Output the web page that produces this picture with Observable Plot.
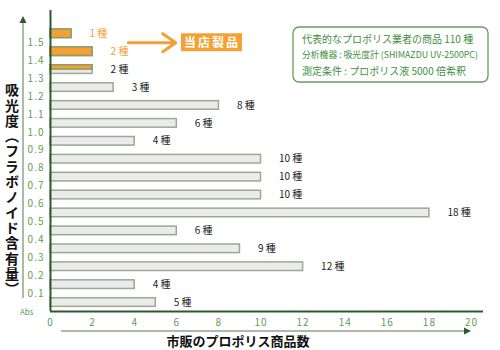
<!DOCTYPE html>
<html><head><meta charset="utf-8">
<script src="https://cdn.jsdelivr.net/npm/d3@7"></script>
<script src="https://cdn.jsdelivr.net/npm/@observablehq/plot@0.6"></script>
<style>
body{margin:0;background:#fff;}
#chart{position:relative;width:500px;height:350px;}
</style></head><body><div id="chart"></div>
<script>
// ---- data ----
const binStart = [0.0, 0.1, 0.2, 0.3, 0.4, 0.5, 0.6, 0.7, 0.8, 0.9, 1.0, 1.1, 1.2, 1.3, 1.4, 1.5];
const counts   = [5, 4, 12, 9, 6, 18, 10, 10, 10, 4, 6, 8, 3, 2, 2, 1];
const storeShare = [0, 0, 0, 0, 0, 0, 0, 0, 0, 0, 0, 0, 0, 0.5, 1, 1];
const xTicks = [0, 2, 4, 6, 8, 10, 12, 14, 16, 18, 20];
const yTicks = [0.1, 0.2, 0.3, 0.4, 0.5, 0.6, 0.7, 0.8, 0.9, 1.0, 1.1, 1.2, 1.3, 1.4, 1.5];
const unitLabel = "種";
const yTitle = "吸光度（フラボノイド含有量）";
const xTitle = "市販のプロポリス商品数";
const absLabel = "Abs";
const storeLabel = "当店製品";
const infoLines = [
  "代表的なプロポリス業者の商品 110 種",
  "分析機器 : 吸光度計 (SHIMAZDU UV-2500PC)",
  "測定条件 : プロポリス液 5000 倍希釈"
];

const data = binStart.map((lo, i) => ({lo, hi: lo + 0.1, n: counts[i], share: storeShare[i]}));
const gap = 0.026;
const green = "#5c9e52";
const dark = "#2c5a2c";
const orange = "#f5a033";
const font = "'Noto Sans CJK JP', sans-serif";

const plot = Plot.plot({
  width: 500, height: 350,
  marginTop: 10, marginBottom: 39, marginLeft: 50, marginRight: 29,
  style: {fontFamily: font, background: "#fff"},
  x: {domain: [0, 20]},
  y: {domain: [0, 1.68]},
  marks: [
    Plot.rect(data, {x1: 0, x2: "n", y1: d => d.lo + gap, y2: d => d.hi - gap,
      fill: "#ebebeb", stroke: "#9aa992", strokeWidth: 1.5}),
    Plot.rect(data.filter(d => d.share > 0), {x1: 0, x2: "n",
      y1: d => d.hi - gap - d.share * (0.1 - 2 * gap), y2: d => d.hi - gap,
      fill: orange, stroke: "#8c9c6c", strokeWidth: 1.5}),
    Plot.text(data, {x: "n", y: d => (d.lo + d.hi) / 2, text: d => `${d.n} ${unitLabel}`,
      dx: 18, textAnchor: "start", fontSize: 10,
      fill: d => d.share === 1 ? orange : "#222",
      fontWeight: d => d.share === 1 ? "normal" : "bold"}),
    // store annotation
    Plot.arrow([{x1: 3.7, x2: 5.95, y: 1.5}], {x1: "x1", x2: "x2", y1: "y", y2: "y",
      stroke: orange, strokeWidth: 3, headLength: 9, headAngle: 70}),
    Plot.rect([{x1: 6.22, x2: 9.12, y1: 1.45, y2: 1.55}], {x1: "x1", x2: "x2", y1: "y1", y2: "y2", fill: orange}),
    Plot.text([storeLabel], {x: 7.67, y: 1.5, fill: "#fff", fontSize: 12, fontWeight: "bold"}),
    // axes
    Plot.axisY(yTicks, {tickSize: 0, tickPadding: 6, tickFormat: d => d.toFixed(1), color: green, fontSize: 10, label: null}),
    Plot.axisX(xTicks, {tickSize: 0, tickPadding: 7, color: green, fontSize: 10, label: null}),
    Plot.ruleX([0], {y1: 0, y2: 1.68, stroke: dark, strokeWidth: 2}),
    Plot.ruleY([0], {x1: 0, x2: 20.57, stroke: dark, strokeWidth: 2})
  ]
});
document.getElementById("chart").appendChild(plot);

// ---- decorations ----
const svg = d3.select(plot);
svg.selectAll("[aria-label='y-axis tick label'] text, [aria-label='x-axis tick label'] text").style("letter-spacing", "1px");
svg.selectAll("text").filter(function(){return this.textContent === storeLabel;}).style("letter-spacing", "2px");

// y title + arrow
const g = svg.append("g").attr("font-family", font).attr("text-anchor", "start");
g.append("line").attr("x1", 23).attr("x2", 23).attr("y1", 298).attr("y2", 22)
  .attr("stroke", "#8fa48a").attr("stroke-width", 1.5);
g.append("path").attr("d", "M23,16 L19.5,23 L26.5,23 Z").attr("fill", dark);
g.append("text").text(yTitle).attr("x", 12).attr("y", 190)
  .attr("text-anchor", "middle").style("writing-mode", "vertical-rl")
  .attr("font-size", 14).attr("font-weight", "bold").attr("fill", "#111").style("letter-spacing", "1.3px");

// x title + arrow
g.append("line").attr("x1", 61).attr("x2", 464).attr("y1", 331).attr("y2", 331)
  .attr("stroke", "#8fa48a").attr("stroke-width", 1.5);
g.append("path").attr("d", "M471,331 L464,327.5 L464,334.5 Z").attr("fill", dark);
g.append("text").text(xTitle).attr("x", 238).attr("y", 346).attr("text-anchor", "middle")
  .attr("font-size", 13).attr("font-weight", "bold").attr("fill", "#111");

g.append("text").text(absLabel).attr("x", 20).attr("y", 315).attr("text-anchor", "start")
  .attr("font-size", 8).attr("fill", green);

// info box
g.append("rect").attr("x", 293).attr("y", 27).attr("width", 195).attr("height", 55).attr("rx", 6)
  .attr("fill", "#fff").attr("stroke", "#6a9a60").attr("stroke-width", 1.3);
const sizes = [10, 8.8, 10];
infoLines.forEach((t, i) => {
  g.append("text").text(t).attr("x", 302).attr("y", [43, 57.5, 74.5][i])
    .attr("text-anchor", "start")
    .attr("font-size", sizes[i]).attr("fill", "#3f8f3f");
});
</script></body></html>
